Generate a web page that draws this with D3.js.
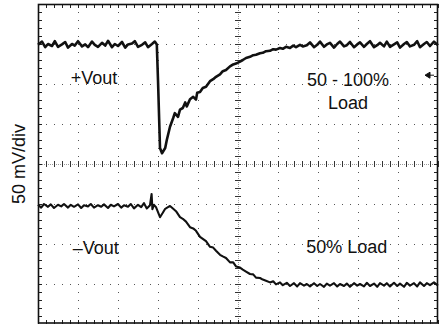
<!DOCTYPE html>
<html>
<head>
<meta charset="utf-8">
<script src="https://cdn.jsdelivr.net/npm/d3@7"></script>
<style>
  html, body { margin: 0; padding: 0; background: #fff; }
  svg { display: block; }
  text { font-family: "Liberation Sans", Arial, Helvetica, sans-serif; fill: #111; }
</style>
</head>
<body>
<svg id="chart" width="444" height="324"></svg>
<script>
// ---- Data (time in screen divisions, voltage in screen divisions, 50 mV/div) ----
const timeDomain = [0, 10];      // 10 horizontal divisions
const voltDomain = [-4, 4];      // 8 vertical divisions
const majorStep = 1;
const minorStep = 0.2;

// +Vout trace, 50 - 100% load step
const plusTime = [0.00,0.10,0.18,0.25,0.35,0.42,0.50,0.60,0.68,0.75,0.85,0.92,1.00,1.10,1.18,1.25,1.35,1.42,1.50,1.60,1.68,1.75,1.85,1.92,2.00,2.10,2.18,2.25,2.35,2.42,2.50,2.60,2.68,2.75,2.85,2.92,2.97,
  3.00,3.05,3.10,3.18,3.22,3.30,3.38,3.42,3.50,3.55,3.62,3.68,3.72,3.80,3.88,3.95,3.98,4.05,4.12,4.20,4.30,4.38,4.45,4.55,4.62,4.70,4.80,4.88,4.95,5.05,5.12,5.20,5.30,5.38,5.45,5.55,5.62,5.70,5.80,5.88,5.95,6.05,6.12,6.20,6.30,6.38,6.45,6.55,6.62,6.72,
  6.80,6.90,6.98,7.05,7.15,7.22,7.30,7.40,7.48,7.55,7.65,7.72,7.80,7.90,7.98,8.05,8.15,8.22,8.30,8.40,8.48,8.55,8.65,8.72,8.80,8.90,8.98,9.05,9.15,9.22,9.30,9.40,9.48,9.55,9.65,9.72,9.80,9.90,10.00];
const plusVolt = [2.98,3.06,2.92,3.00,2.95,3.07,2.93,2.99,3.05,2.91,3.00,2.96,3.07,2.94,2.99,2.92,3.06,2.98,2.93,3.03,2.96,3.08,2.92,3.00,2.95,3.05,2.91,2.99,3.01,3.07,2.93,2.98,3.04,2.92,3.00,3.06,2.99,
  2.10,0.40,0.27,0.40,0.60,0.93,1.15,1.27,1.18,1.36,1.40,1.54,1.44,1.62,1.68,1.61,1.78,1.80,1.90,1.93,2.07,2.12,2.18,2.24,2.32,2.35,2.44,2.49,2.51,2.56,2.60,2.65,2.68,2.72,2.73,2.77,2.78,2.82,2.83,2.87,2.86,2.90,2.88,2.93,2.90,2.96,2.92,2.98,2.94,2.97,
  3.04,2.92,2.98,3.06,2.93,2.99,3.03,2.91,3.00,3.06,2.94,2.97,3.05,2.92,2.99,3.04,2.93,3.00,3.07,2.92,2.97,3.03,2.94,3.06,2.93,2.99,3.04,2.91,3.00,3.05,2.94,2.98,3.07,2.92,3.00,3.05,2.95,3.06,2.97];

// -Vout trace, 50% load
const minusTime = [0.00,0.08,0.15,0.25,0.32,0.40,0.50,0.58,0.65,0.75,0.82,0.90,1.00,1.08,1.15,1.25,1.32,1.40,1.50,1.58,1.65,1.75,1.82,1.90,2.00,2.08,2.15,2.25,2.32,2.40,2.50,2.58,2.65,2.72,2.80,2.84,2.86,2.90,2.95,3.05,3.12,3.18,3.25,3.30,3.38,3.45,3.55,3.62,3.70,3.80,3.88,3.95,4.05,4.12,4.20,4.30,4.38,4.45,4.55,4.62,4.70,4.80,4.88,4.95,5.05,5.12,5.20,5.30,5.38,5.45,5.55,5.62,5.70,5.80,5.88,5.95,6.05,6.12,6.22,
  6.30,6.40,6.48,6.55,6.65,6.72,6.80,6.90,6.98,7.05,7.15,7.22,7.30,7.40,7.48,7.55,7.65,7.72,7.80,7.90,7.98,8.05,8.15,8.22,8.30,8.40,8.48,8.55,8.65,8.72,8.80,8.90,8.98,9.05,9.15,9.22,9.30,9.40,9.48,9.55,9.65,9.72,9.80,9.90,10.00];
const minusVolt = [-1.02,-1.09,-1.00,-1.07,-1.01,-1.10,-1.02,-1.06,-1.00,-1.09,-1.02,-1.07,-1.01,-1.10,-1.03,-1.06,-1.00,-1.09,-1.03,-1.07,-1.01,-1.10,-1.02,-1.06,-1.00,-1.09,-1.03,-1.07,-1.00,-1.11,-1.02,-1.08,-0.98,-1.11,-1.03,-0.75,-1.13,-1.02,-1.08,-1.33,-1.22,-1.12,-1.08,-1.05,-1.12,-1.18,-1.33,-1.37,-1.44,-1.58,-1.61,-1.67,-1.82,-1.87,-1.93,-2.07,-2.09,-2.17,-2.27,-2.31,-2.35,-2.46,-2.46,-2.56,-2.59,-2.64,-2.69,-2.75,-2.76,-2.84,-2.85,-2.89,-2.92,-2.96,-2.93,-3.01,-2.96,-3.03,-2.97,
  -3.05,-2.98,-3.06,-2.98,-3.04,-3.00,-3.06,-2.98,-3.05,-3.00,-3.07,-2.99,-3.04,-2.98,-3.06,-3.00,-3.05,-2.99,-3.07,-2.98,-3.04,-3.00,-3.06,-2.97,-3.05,-2.99,-3.07,-2.98,-3.04,-2.98,-3.06,-2.97,-3.05,-2.99,-3.07,-2.97,-3.04,-2.98,-3.06,-2.96,-3.05,-2.98,-3.03,-2.96,-3.04];

const labels = [
  { text: "+Vout", t: 0.82, v: 2.00, anchor: "start" },
  { text: "50 - 100%", t: 7.75, v: 1.95, anchor: "middle" },
  { text: "Load", t: 7.75, v: 1.38, anchor: "middle" },
  { text: "\u2013Vout", t: 0.87, v: -2.25, anchor: "start" },
  { text: "50% Load", t: 7.72, v: -2.22, anchor: "middle" }
];
const yAxisTitle = "50 mV/div";
const triggerMarker = { t: 9.75, v: 2.22 };

// ---- Drawing ----
const svg = d3.select("#chart");
const plot = { left: 38, top: 4, width: 400, height: 320 };

const x = d3.scaleLinear().domain(timeDomain).range([plot.left, plot.left + plot.width]);
const y = d3.scaleLinear().domain(voltDomain).range([plot.top + plot.height, plot.top]);

const majorT = d3.range(timeDomain[0] + majorStep, timeDomain[1], majorStep);
const majorV = d3.range(voltDomain[0] + majorStep, voltDomain[1], majorStep);
const minorT = d3.range(timeDomain[0], timeDomain[1] + 1e-9, minorStep);
const minorV = d3.range(voltDomain[0], voltDomain[1] + 1e-9, minorStep);

const g = svg.append("g");

// dotted major grid
g.selectAll("line.vgrid").data(majorT.filter(d => d !== 5)).enter().append("line")
  .attr("x1", d => x(d)).attr("x2", d => x(d))
  .attr("y1", plot.top).attr("y2", plot.top + plot.height)
  .attr("stroke", "#555").attr("stroke-width", 1)
  .attr("stroke-dasharray", "1.2 6.8").attr("shape-rendering", "crispEdges");
g.selectAll("line.hgrid").data(majorV.filter(d => d !== 0)).enter().append("line")
  .attr("y1", d => y(d)).attr("y2", d => y(d))
  .attr("x1", plot.left).attr("x2", plot.left + plot.width)
  .attr("stroke", "#555").attr("stroke-width", 1)
  .attr("stroke-dasharray", "1.2 6.8").attr("shape-rendering", "crispEdges");

// centre axes: fine dotted line
g.append("line").attr("x1", x(5)).attr("x2", x(5)).attr("y1", plot.top).attr("y2", plot.top + plot.height)
  .attr("stroke", "#999").attr("stroke-dasharray", "1 1").attr("shape-rendering", "crispEdges");
g.append("line").attr("y1", y(0)).attr("y2", y(0)).attr("x1", plot.left).attr("x2", plot.left + plot.width)
  .attr("stroke", "#999").attr("stroke-dasharray", "1 1").attr("shape-rendering", "crispEdges");

// centre axes ticks via d3 axes
const cx = g.append("g").attr("transform", `translate(0,${y(0)})`)
  .call(d3.axisBottom(x).tickValues(minorT).tickSize(3).tickFormat(""));
cx.selectAll(".tick line").attr("y1", -3).attr("y2", 3).attr("stroke", "#333");
cx.select(".domain").remove();
const cy = g.append("g").attr("transform", `translate(${x(5)},0)`)
  .call(d3.axisLeft(y).tickValues(minorV).tickSize(3).tickFormat(""));
cy.selectAll(".tick line").attr("x1", -3).attr("x2", 3).attr("stroke", "#333");
cy.select(".domain").remove();

// border ticks (inward)
function edge(axisFn, scale, vals, tr, size) {
  const a = g.append("g").attr("transform", tr)
    .call(axisFn(scale).tickValues(vals).tickSize(size).tickFormat(""));
  a.select(".domain").remove();
  a.selectAll(".tick line").attr("stroke", "#222");
}
edge(d3.axisTop, x, minorT, `translate(0,${plot.top})`, -4);
edge(d3.axisBottom, x, minorT, `translate(0,${plot.top + plot.height})`, -4);
edge(d3.axisLeft, y, minorV, `translate(${plot.left},0)`, -4);
edge(d3.axisRight, y, minorV, `translate(${plot.left + plot.width},0)`, -4);

// frame
g.append("rect").attr("x", plot.left + 0.5).attr("y", plot.top + 0.5)
  .attr("width", plot.width - 1).attr("height", plot.height - 1.5)
  .attr("fill", "none").attr("stroke", "#111").attr("stroke-width", 1.6);

// traces
const line = d3.line().x(d => x(d[0])).y(d => y(d[1]));
const plusData = d3.zip(plusTime, plusVolt);
const minusData = d3.zip(minusTime, minusVolt);
g.append("path").datum(plusData).attr("d", line)
  .attr("fill", "none").attr("stroke", "#111").attr("stroke-width", 2.6).attr("stroke-linejoin", "round");
g.append("path").datum(minusData).attr("d", line)
  .attr("fill", "none").attr("stroke", "#111").attr("stroke-width", 2.1).attr("stroke-linejoin", "round");

// trigger marker
const mx = x(triggerMarker.t), my = y(triggerMarker.v);
g.append("path").attr("d", `M${mx - 3},${my} L${mx + 2},${my - 3} L${mx + 2},${my + 3} Z M${mx + 2},${my} L${mx + 6},${my}`)
  .attr("fill", "#111").attr("stroke", "#111").attr("stroke-width", 1);

// labels
g.selectAll("text.lbl").data(labels).enter().append("text")
  .attr("x", d => x(d.t)).attr("y", d => y(d.v))
  .attr("text-anchor", d => d.anchor)
  .attr("font-size", 18).text(d => d.text);

svg.append("text").attr("transform", `translate(25,${y(0)}) rotate(-90)`)
  .attr("text-anchor", "middle").attr("font-size", 18).text(yAxisTitle);
</script>
</body>
</html>
